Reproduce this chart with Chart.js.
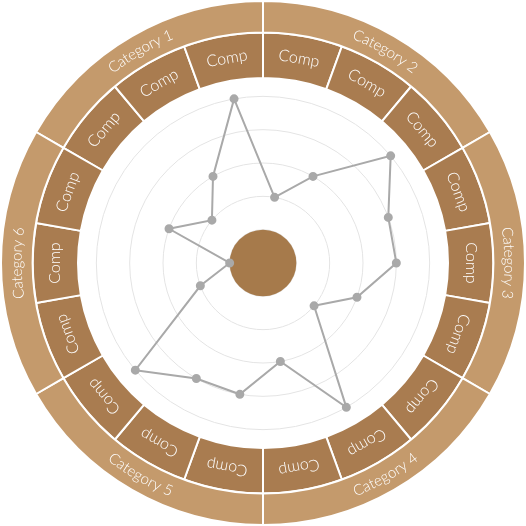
<!DOCTYPE html>
<html>
<head>
<meta charset="utf-8">
<script src="https://cdn.jsdelivr.net/npm/chart.js@4.4.1/dist/chart.umd.min.js"></script>
<style>
  html, body { margin: 0; padding: 0; background: #fff; }
  #wrap { position: relative; width: 526px; height: 526px; }
  #wrap canvas { position: absolute; left: 0; top: 0; }
</style>
</head>
<body>
<div id="wrap">
  <canvas id="radar" width="526" height="526"></canvas>
  <canvas id="rings" width="526" height="526"></canvas>
</div>
<script>
// categories and competencies (3 per category)
const categories = ['Category 1', 'Category 2', 'Category 3', 'Category 4', 'Category 5', 'Category 6'];
const competences = ['Comp', 'Comp', 'Comp', 'Comp', 'Comp', 'Comp', 'Comp', 'Comp', 'Comp',
                     'Comp', 'Comp', 'Comp', 'Comp', 'Comp', 'Comp', 'Comp', 'Comp', 'Comp'];
const scores = [1, 2, 4, 1, 2, 4, 3, 3, 2, 1, 4, 2, 3, 3, 4, 1, 0, 2];
const scaleMin = -1;
const scaleMax = 5;

const couleurCategorie = '#c49a6c';
const couleurComp = '#a97c50';
const couleurCentre = '#a67a4b';

// centre disc, drawn under the line
const disqueCentre = {
  id: 'disqueCentre',
  beforeDatasetsDraw(chart) {
    const r = chart.scales.r;
    const ctx = chart.ctx;
    ctx.save();
    ctx.beginPath();
    ctx.arc(r.xCenter, r.yCenter, r.getDistanceFromCenterForValue(0), 0, Math.PI * 2);
    ctx.fillStyle = couleurCentre;
    ctx.fill();
    ctx.restore();
  }
};

new Chart(document.getElementById('radar'), {
  type: 'radar',
  data: {
    labels: competences,
    datasets: [{
      data: scores,
      borderColor: '#a9a9a9',
      borderWidth: 2,
      backgroundColor: 'rgba(0,0,0,0)',
      pointBackgroundColor: '#a9a9a9',
      pointBorderColor: '#a9a9a9',
      pointRadius: 3.5,
      fill: false
    }]
  },
  options: {
    responsive: false,
    animation: false,
    layout: { padding: 63 },
    plugins: { legend: { display: false }, tooltip: { enabled: false } },
    scales: {
      r: {
        min: scaleMin,
        max: scaleMax,
        startAngle: -50,
        ticks: { display: false, stepSize: 1 },
        pointLabels: { display: false },
        angleLines: { display: false },
        grid: { circular: true, color: '#e4e4e4', lineWidth: 1 }
      }
    }
  },
  plugins: [disqueCentre]
});

// text on the rings
function texteArc(ctx, texte, x, y, rayon, angleMilieu, retourne) {
  // angleMilieu: canvas angle (0 = right, clockwise)
  const largeurs = [...texte].map(c => ctx.measureText(c).width);
  const total = largeurs.reduce((a, b) => a + b, 0);
  let a = retourne ? angleMilieu + total / 2 / rayon : angleMilieu - total / 2 / rayon;
  [...texte].forEach((c, i) => {
    const w = largeurs[i];
    const am = retourne ? a - w / 2 / rayon : a + w / 2 / rayon;
    ctx.save();
    ctx.translate(x + Math.cos(am) * rayon, y + Math.sin(am) * rayon);
    ctx.rotate(retourne ? am - Math.PI / 2 : am + Math.PI / 2);
    ctx.fillText(c, 0, 0);
    ctx.restore();
    a = retourne ? a - w / rayon : a + w / rayon;
  });
}

const etiquettesAnneaux = {
  id: 'etiquettesAnneaux',
  afterDatasetsDraw(chart) {
    const ctx = chart.ctx;
    ctx.save();
    ctx.fillStyle = '#ffffff';
    ctx.textAlign = 'center';
    ctx.textBaseline = 'middle';
    // categories, curved, flipped on the bottom half
    ctx.font = '300 15px Lato';
    chart.getDatasetMeta(0).data.forEach((arc, i) => {
      const p = arc.getProps(['x', 'y', 'startAngle', 'endAngle', 'innerRadius', 'outerRadius']);
      const mid = (p.startAngle + p.endAngle) / 2;
      const rad = (p.innerRadius + p.outerRadius) / 2;
      let deg = ((mid + Math.PI / 2) * 180 / Math.PI) % 360;
      if (deg < 0) deg += 360;
      const retourne = deg > 91 && deg < 269;
      texteArc(ctx, categories[i], p.x, p.y, rad, mid, retourne);
    });
    // comps, straight, rotated with the ring
    ctx.font = '300 16px Lato';
    chart.getDatasetMeta(1).data.forEach((arc, i) => {
      const p = arc.getProps(['x', 'y', 'startAngle', 'endAngle', 'innerRadius', 'outerRadius']);
      const mid = (p.startAngle + p.endAngle) / 2;
      const rad = (p.innerRadius + p.outerRadius) / 2;
      ctx.save();
      ctx.translate(p.x + Math.cos(mid) * rad, p.y + Math.sin(mid) * rad);
      ctx.rotate(mid + Math.PI / 2);
      ctx.fillText(competences[i], 0, 0);
      ctx.restore();
    });
    ctx.restore();
  }
};

new Chart(document.getElementById('rings'), {
  type: 'doughnut',
  data: {
    datasets: [
      {
        data: categories.map(() => 1),
        backgroundColor: couleurCategorie,
        borderColor: '#ffffff',
        borderWidth: 2,
        weight: 32
      },
      {
        data: competences.map(() => 1),
        backgroundColor: couleurComp,
        borderColor: '#ffffff',
        borderWidth: 2,
        weight: 46
      }
    ]
  },
  options: {
    responsive: false,
    animation: false,
    rotation: -60,
    cutout: 185,
    plugins: { legend: { display: false }, tooltip: { enabled: false } }
  },
  plugins: [etiquettesAnneaux]
});
</script>
</body>
</html>
